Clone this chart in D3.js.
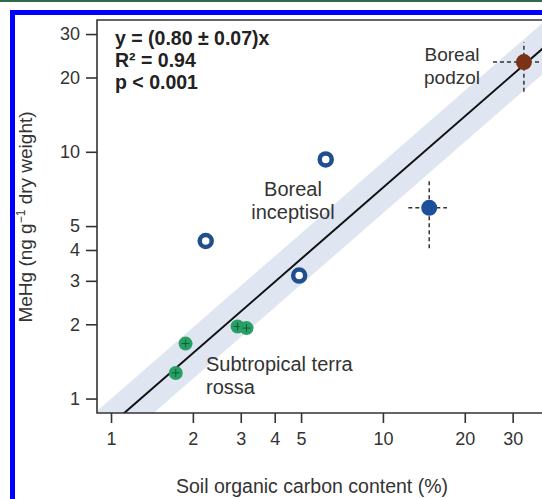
<!DOCTYPE html>
<html><head><meta charset="utf-8">
<script src="https://cdn.jsdelivr.net/npm/d3@7"></script>
<style>
html,body{margin:0;padding:0;background:#fff;}
svg{display:block;font-family:"Liberation Sans",Arial,Helvetica,sans-serif;}
</style></head>
<body>
<svg id="c" width="542" height="499"></svg>
<script>
// ---- data ----
const tickValues = [1, 2, 3, 4, 5, 10, 20, 30];
const openX = [6.16, 2.23, 4.92];           // Boreal inceptisol samples
const openY = [9.31, 4.35, 3.15];
const greenX = [1.88, 1.73, 2.92, 3.15];     // Subtropical terra rossa
const greenY = [1.67, 1.27, 1.96, 1.93];
const meanName = ["inceptisol", "podzol"];
const meanX = [14.8, 33.0];
const meanY = [5.93, 23.1];
const meanXLo = [12.4, 25.4];
const meanXHi = [17.2, 42.9];
const meanYLo = [4.07, 17.5];
const meanYHi = [7.68, 27.8];
const fitX = [1.117, 33.0];                  // regression line
const fitY = [0.873, 22.5];
const bandFactor = 1.27;                     // half-width of the shaded band (ratio)
const statLines = ["y = (0.80 ± 0.07)x", "R² = 0.94", "p < 0.001"];

// ---- setup ----
const svg = d3.select("#c");
const W = 542, H = 499;
const L = 97, T = 20, B = 413, R = 560;
const x = d3.scaleLog().domain([0.888, 44.8]).range([L, R]);
const y = d3.scaleLog().domain([0.874, 34.2]).range([B, T]);

// border decorations
svg.append("rect").attr("x",0).attr("y",0).attr("width",W).attr("height",2).attr("fill","#2f6a4c");
svg.append("rect").attr("x",10).attr("y",10).attr("width",W).attr("height",5).attr("fill","#0000ff");
svg.append("rect").attr("x",10).attr("y",10).attr("width",5).attr("height",H).attr("fill","#0000ff");

svg.append("defs").append("clipPath").attr("id","clip")
  .append("rect").attr("x",L).attr("y",T).attr("width",R-L).attr("height",B-T);
const g = svg.append("g").attr("clip-path","url(#clip)");

// fit line in log space
const lx0 = Math.log10(fitX[0]), lx1 = Math.log10(fitX[1]);
const ly0 = Math.log10(fitY[0]), ly1 = Math.log10(fitY[1]);
const slope = (ly1 - ly0) / (lx1 - lx0);
const fit = v => Math.pow(10, ly0 + slope * (Math.log10(v) - lx0));
const xs = [0.5, 80];

// band
const band = d3.area()
  .x(d => x(d))
  .y0(d => y(fit(d) / bandFactor))
  .y1(d => y(fit(d) * bandFactor));
g.append("path").datum(xs).attr("d", band).attr("fill","#dfe6f1");

g.append("line")
  .attr("x1", x(xs[0])).attr("y1", y(fit(xs[0])))
  .attr("x2", x(xs[1])).attr("y2", y(fit(xs[1])))
  .attr("stroke","#111").attr("stroke-width",2);

// error bars for means
const meanColor = ["#1d4f9a", "#7a3316"];
meanX.forEach((mx, i) => {
  g.append("line").attr("x1", x(meanXLo[i])).attr("x2", x(meanXHi[i]))
    .attr("y1", y(meanY[i])).attr("y2", y(meanY[i]))
    .attr("stroke","#333").attr("stroke-width",1.5).attr("stroke-dasharray","4,3");
  g.append("line").attr("x1", x(mx)).attr("x2", x(mx))
    .attr("y1", y(meanYLo[i])).attr("y2", y(meanYHi[i]))
    .attr("stroke","#333").attr("stroke-width",1.5).attr("stroke-dasharray","4,3");
});
meanX.forEach((mx, i) => {
  g.append("circle").attr("cx", x(mx)).attr("cy", y(meanY[i])).attr("r", 8)
    .attr("fill", meanColor[i]);
});

// open circles
openX.forEach((ox, i) => {
  g.append("circle").attr("cx", x(ox)).attr("cy", y(openY[i])).attr("r", 6)
    .attr("fill","#fff").attr("stroke","#1f4f8e").attr("stroke-width",4.5);
});

// green points
greenX.forEach((gx, i) => {
  g.append("circle").attr("cx", x(gx)).attr("cy", y(greenY[i])).attr("r", 7)
    .attr("fill","#27a066");
  const cx = x(gx), cy = y(greenY[i]);
  g.append("line").attr("x1", cx-4).attr("x2", cx+4).attr("y1", cy).attr("y2", cy)
    .attr("stroke","#145c38").attr("stroke-width",1);
  g.append("line").attr("x1", cx).attr("x2", cx).attr("y1", cy-4).attr("y2", cy+4)
    .attr("stroke","#145c38").attr("stroke-width",1);
});

// frame
svg.append("path").attr("d", `M${W+5},${T}H${L}V${B}H${W+5}`)
  .attr("fill","none").attr("stroke","#333").attr("stroke-width",1.6);

// axes
const fmt = d3.format("d");
const xAxis = svg.append("g").attr("transform",`translate(0,${B})`)
  .call(d3.axisBottom(x).tickValues(tickValues).tickFormat(fmt).tickSize(10).tickPadding(9));
const yAxis = svg.append("g").attr("transform",`translate(${L},0)`)
  .call(d3.axisLeft(y).tickValues(tickValues).tickFormat(fmt).tickSize(11).tickPadding(6));
[xAxis, yAxis].forEach(a => {
  a.select(".domain").remove();
  a.selectAll(".tick line").attr("stroke","#333").attr("stroke-width",1.6);
  a.selectAll(".tick text").attr("fill","#333").style("font-size","18px")
    .style("font-family",'"Liberation Sans",Arial,sans-serif');
});

// axis titles
svg.append("text").attr("x", 312).attr("y", 493).attr("text-anchor","middle")
  .attr("fill","#333").style("font-size","19.5px").text("Soil organic carbon content (%)");
const yt = svg.append("text").attr("transform","translate(32,217) rotate(-90)")
  .attr("text-anchor","middle").attr("fill","#333").style("font-size","19px");
yt.append("tspan").text("MeHg (ng g");
yt.append("tspan").attr("dy",-7).style("font-size","12px").text("−1");
yt.append("tspan").attr("dy",7).text(" dry weight)");

// stats
statLines.forEach((s, i) => {
  svg.append("text").attr("x", 115).attr("y", 45 + i * 22)
    .attr("fill","#222").style("font-size","19.5px").style("font-weight","bold").text(s);
});

// group labels
const lab = (lines, xx, yy, anchor, fs) => lines.forEach((t, i) =>
  svg.append("text").attr("x", xx).attr("y", yy + i * 23).attr("text-anchor", anchor)
    .attr("fill","#333").style("font-size", fs + "px").text(t));
lab(["Boreal", "podzol"], 452, 61, "middle", 19);
lab(["Boreal", "inceptisol"], 293, 196, "middle", 20);
lab(["Subtropical terra", "rossa"], 206, 371, "start", 20);
</script>
</body></html>
